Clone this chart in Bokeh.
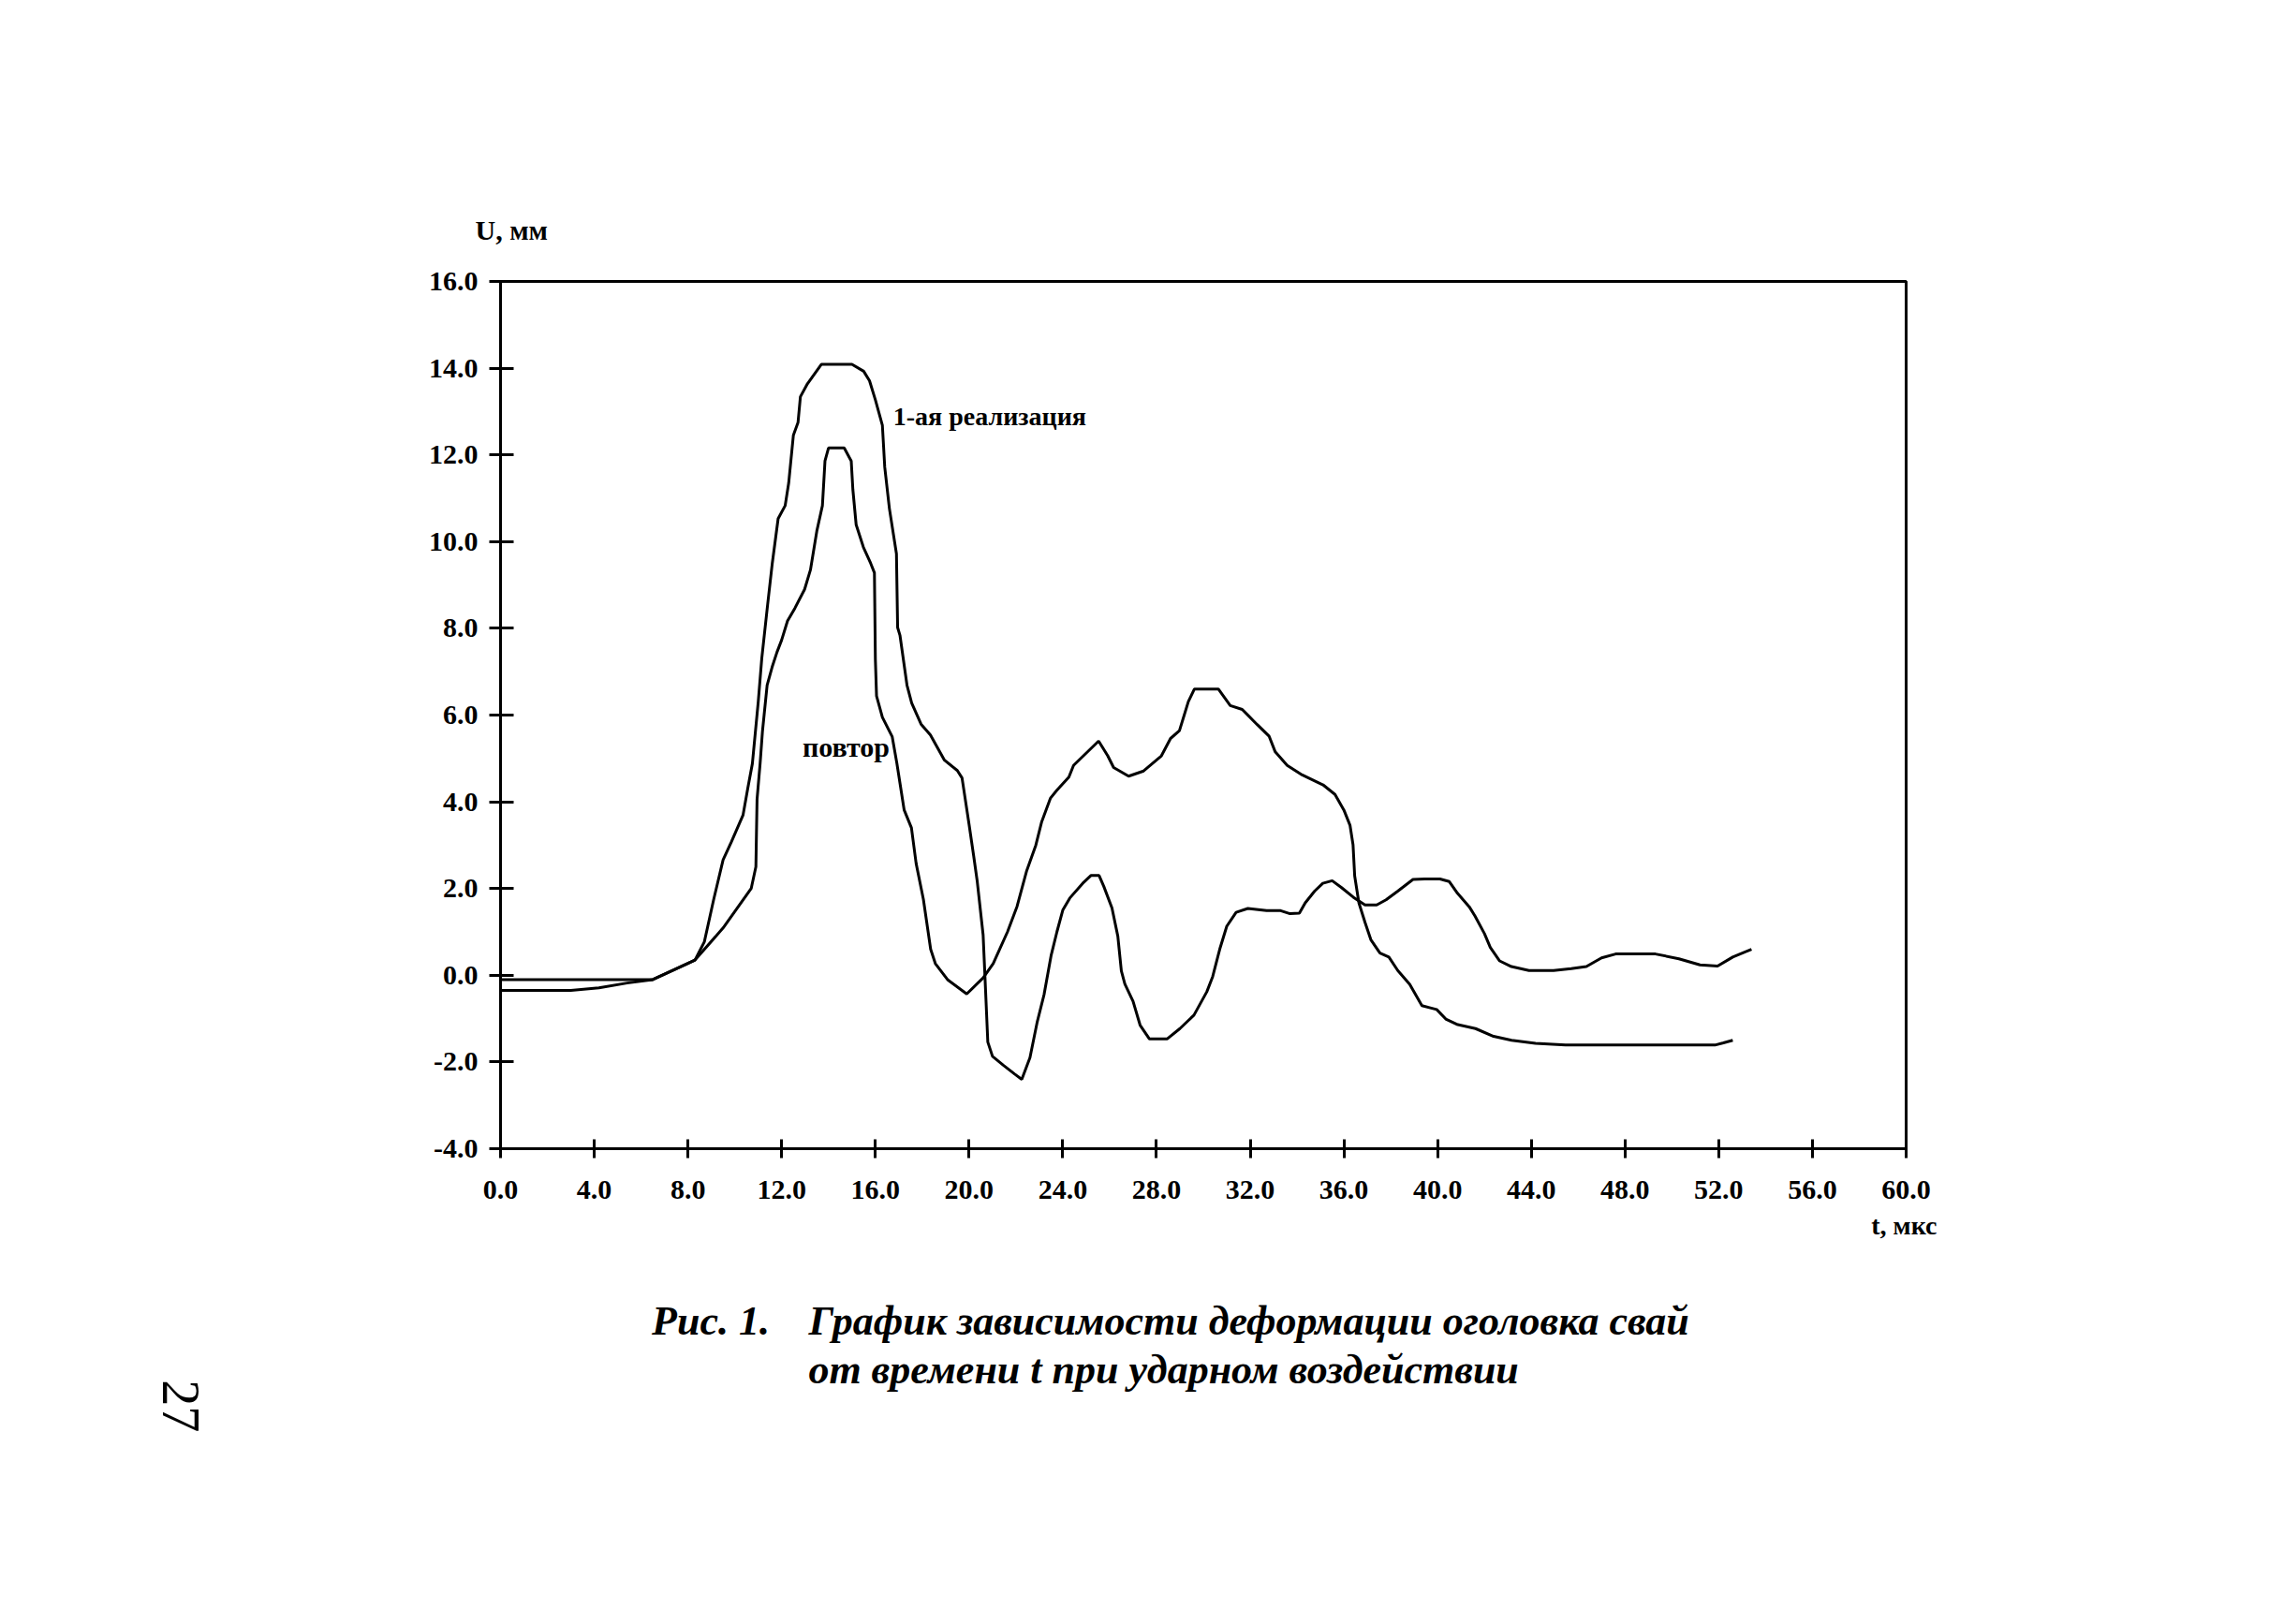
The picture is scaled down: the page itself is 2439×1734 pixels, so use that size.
import math
from bokeh.plotting import figure
from bokeh.layouts import column
from bokeh.models import Range1d, FixedTicker, PrintfTickFormatter, Label, Title
from bokeh.core.properties import value
from bokeh.embed import file_html
from bokeh.resources import INLINE

# ---- data ----
t_first = [0, 3.0, 4.2, 5.4, 6.5, 7.5, 8.3, 8.7, 9.1, 9.5, 9.85, 10.35, 10.55, 10.75, 11.0, 11.15,
           11.4, 11.6, 11.85, 12.15, 12.3, 12.5, 12.7, 12.8, 13.1, 13.7, 15.0, 15.5, 15.75, 16.0,
           16.3, 16.4, 16.6, 16.9, 16.95, 17.05, 17.35, 17.55, 17.95, 18.35, 18.65, 18.95, 19.5,
           19.7, 20.0, 20.2, 20.35, 20.6, 20.7, 20.8, 21.0, 21.45, 21.95, 22.25, 22.6, 22.9, 23.2,
           23.5, 23.75, 24.0, 24.3, 24.85, 25.2, 25.55, 25.75, 26.1, 26.35, 26.5, 26.65, 27.0,
           27.3, 27.7, 28.45, 29.0, 29.6, 30.15, 30.4, 30.7, 31.0, 31.4, 31.9, 32.7, 33.3, 33.7,
           34.1, 34.35, 34.75, 35.1, 35.5, 35.9, 36.4, 36.9, 37.4, 37.8, 38.3, 38.95, 39.45, 40.1,
           40.5, 40.85, 41.35, 41.6, 42.0, 42.25, 42.65, 43.15, 43.9, 44.95, 45.7, 46.35, 47.0,
           47.6, 49.3, 50.3, 51.2, 51.95, 52.6, 53.4]
u_first = [-0.35, -0.35, -0.29, -0.18, -0.1, 0.15, 0.35, 0.77, 1.75, 2.66, 3.07, 3.69, 4.3, 4.88, 6.3, 7.3,
           8.54, 9.5, 10.53, 10.83, 11.35, 12.45, 12.75, 13.34, 13.64, 14.09, 14.09, 13.93, 13.71, 13.27,
           12.68, 11.72, 10.76, 9.72, 8.02, 7.84, 6.69, 6.28, 5.79, 5.54, 5.25, 4.96, 4.72,
           4.55, 3.48, 2.74, 2.16, 0.93, -0.3, -1.54, -1.87, -2.07, -2.28, -2.4, -1.9, -1.1, -0.45,
           0.45, 1.0, 1.5, 1.78, 2.12, 2.3, 2.3, 2.05, 1.55, 0.9, 0.1, -0.2, -0.6,
           -1.15, -1.47, -1.47, -1.23, -0.92, -0.38, -0.03, 0.6, 1.13, 1.45, 1.54, 1.49, 1.49, 1.42,
           1.43, 1.67, 1.94, 2.12, 2.18, 2.02, 1.8, 1.62, 1.62, 1.74, 1.94, 2.21, 2.22, 2.22,
           2.16, 1.89, 1.58, 1.36, 0.96, 0.64, 0.33, 0.2, 0.11, 0.11, 0.15, 0.2, 0.4,
           0.49, 0.49, 0.38, 0.24, 0.21, 0.42, 0.6]

t_repeat = [0, 6.5, 7.5, 8.3, 9.5, 10.7, 10.9, 10.95, 11.08, 11.18, 11.38, 11.59, 11.8, 12.0, 12.25,
            12.57, 12.98, 13.23, 13.5, 13.74, 13.85, 14.0, 14.67, 14.97, 15.04, 15.18, 15.49, 15.8,
            15.96, 16.0, 16.05, 16.3, 16.72, 16.92, 17.23, 17.54, 17.74, 18.05, 18.36, 18.56, 19.08,
            19.9, 20.6, 21.03, 21.64, 22.05, 22.46, 22.85, 23.1, 23.47, 23.74, 24.26, 24.46, 25.53,
            25.92, 26.17, 26.81, 27.45, 28.21, 28.6, 28.98, 29.36, 29.62, 30.64, 31.15, 31.66, 32.3,
            32.81, 33.07, 33.58, 34.22, 35.11, 35.62, 36.0, 36.26, 36.39, 36.46, 36.64, 36.9, 37.15,
            37.54, 37.92, 38.3, 38.81, 39.33, 39.96, 40.35, 40.86, 41.62, 42.39, 43.16, 44.18, 45.46,
            48.0, 51.84, 52.2, 52.6]
u_repeat = [-0.1, -0.1, 0.15, 0.35, 1.09, 2.0, 2.5, 4.06, 4.88, 5.62, 6.69, 7.1, 7.45, 7.73, 8.17,
            8.47, 8.9, 9.35, 10.24, 10.83, 11.86, 12.16, 12.16, 11.86, 11.2, 10.39, 9.87, 9.5,
            9.28, 7.29, 6.44, 5.95, 5.5, 4.88, 3.81, 3.4, 2.58, 1.75, 0.6, 0.27, -0.1,
            -0.43, -0.06, 0.27, 1.0, 1.59, 2.41, 3.0, 3.54, 4.08, 4.26, 4.57, 4.84, 5.4,
            5.06, 4.79, 4.59, 4.71, 5.06, 5.46, 5.64, 6.31, 6.6, 6.6, 6.22, 6.13, 5.78,
            5.51, 5.15, 4.84, 4.62, 4.39, 4.17, 3.81, 3.46, 3.01, 2.29, 1.67, 1.22, 0.82,
            0.51, 0.42, 0.11, -0.21, -0.7, -0.79, -1.01, -1.14, -1.23, -1.41, -1.5, -1.57, -1.61,
            -1.61, -1.61, -1.56, -1.5]

x_ticks = [0, 4, 8, 12, 16, 20, 24, 28, 32, 36, 40, 44, 48, 52, 56, 60]
y_ticks = [-4, -2, 0, 2, 4, 6, 8, 10, 12, 14, 16]

label_first = "1-ая реализация"
label_repeat = "повтор"
y_title = "U, мм"
x_title = "t, мкс"
caption_head = "Рис. 1."
caption_line1 = "График зависимости деформации оголовка свай"
caption_line2 = "от времени t при ударном воздействии"
page_number = "27"

FONT = "Liberation Serif"
W = 2423
H_MAIN = 1360
H_CAP = 1718 - H_MAIN

# ---------------- main chart ----------------
p = figure(width=W, height=H_MAIN, output_backend="svg", toolbar_location=None,
           x_range=Range1d(0, 60), y_range=Range1d(-4, 16),
           min_border_left=534, min_border_right=388, min_border_top=300, min_border_bottom=134)
p.frame_align = False
p.background_fill_color = "white"
p.border_fill_color = "white"
p.outline_line_color = "black"
p.outline_line_width = 3
p.outline_line_alpha = 1.0
p.grid.visible = False

for ax in (p.xaxis[0], p.yaxis[0]):
    ax.axis_line_width = 3
    ax.axis_line_color = "black"
    ax.major_tick_line_width = 3
    ax.major_tick_line_color = "black"
    ax.minor_tick_line_color = None
    ax.major_label_text_font = FONT
    ax.major_label_text_font_style = "bold"
    ax.major_label_text_font_size = "30px"
    ax.major_label_text_color = "black"
    ax.formatter = PrintfTickFormatter(format="%.1f")

p.xaxis.ticker = FixedTicker(ticks=x_ticks)
p.yaxis.ticker = FixedTicker(ticks=y_ticks)
p.xaxis.major_tick_in = 10
p.xaxis.major_tick_out = 10
p.xaxis.major_label_standoff = 24
p.yaxis.major_tick_in = 14
p.yaxis.major_tick_out = 12
p.yaxis.major_label_standoff = 12

p.line(t_first, u_first, line_color="black", line_width=3)
p.line(t_repeat, u_repeat, line_color="black", line_width=3)

p.add_layout(Label(x=16.76, y=12.89, text=label_first, text_font=FONT, text_font_style="bold",
                   text_font_size="28px", text_baseline="middle", text_align="left", text_color="black"))
p.add_layout(Label(x=12.89, y=5.27, text=label_repeat, text_font=FONT, text_font_style="bold",
                   text_font_size="30px", text_baseline="middle", text_align="left", text_color="black"))

p.add_layout(Title(text=y_title, align="left", offset=-27, standoff=78, text_font=FONT,
                   text_font_style="bold", text_font_size="30px", text_color="black"), "above")
p.add_layout(Title(text=x_title, align="right", offset=-33, standoff=16, text_font=FONT,
                   text_font_style="bold", text_font_size="28px", text_color="black"), "below")

# ---------------- caption strip (pixel coordinates) ----------------
c = figure(width=W, height=H_CAP, output_backend="svg", toolbar_location=None,
           x_range=Range1d(0, W), y_range=Range1d(0, H_CAP),
           min_border_left=0, min_border_right=0, min_border_top=0, min_border_bottom=0)
c.frame_align = False
c.axis.visible = False
c.grid.visible = False
c.outline_line_color = None
c.background_fill_color = "white"
c.border_fill_color = "white"

def ytop(y_down):
    return H_CAP - y_down

c.text(x=[695.6, 862.9], y=[ytop(50), ytop(50)], text=[caption_head, caption_line1],
       text_font=value(FONT), text_font_style="bold italic", text_font_size=value("44px"),
       text_align="left", text_baseline="middle", text_color="black")
c.text(x=[862.9], y=[ytop(101.7)], text=[caption_line2],
       text_font=value(FONT), text_font_style="bold italic", text_font_size=value("44px"),
       text_align="left", text_baseline="middle", text_color="black")
c.text(x=[192], y=[ytop(140.8)], text=[page_number], angle=-math.pi / 2,
       text_font=value(FONT), text_font_style="normal", text_font_size=value("56px"),
       text_align="center", text_baseline="middle", text_color="black")

layout = column(p, c, spacing=0)
open("out.html", "w").write(file_html(layout, INLINE))
